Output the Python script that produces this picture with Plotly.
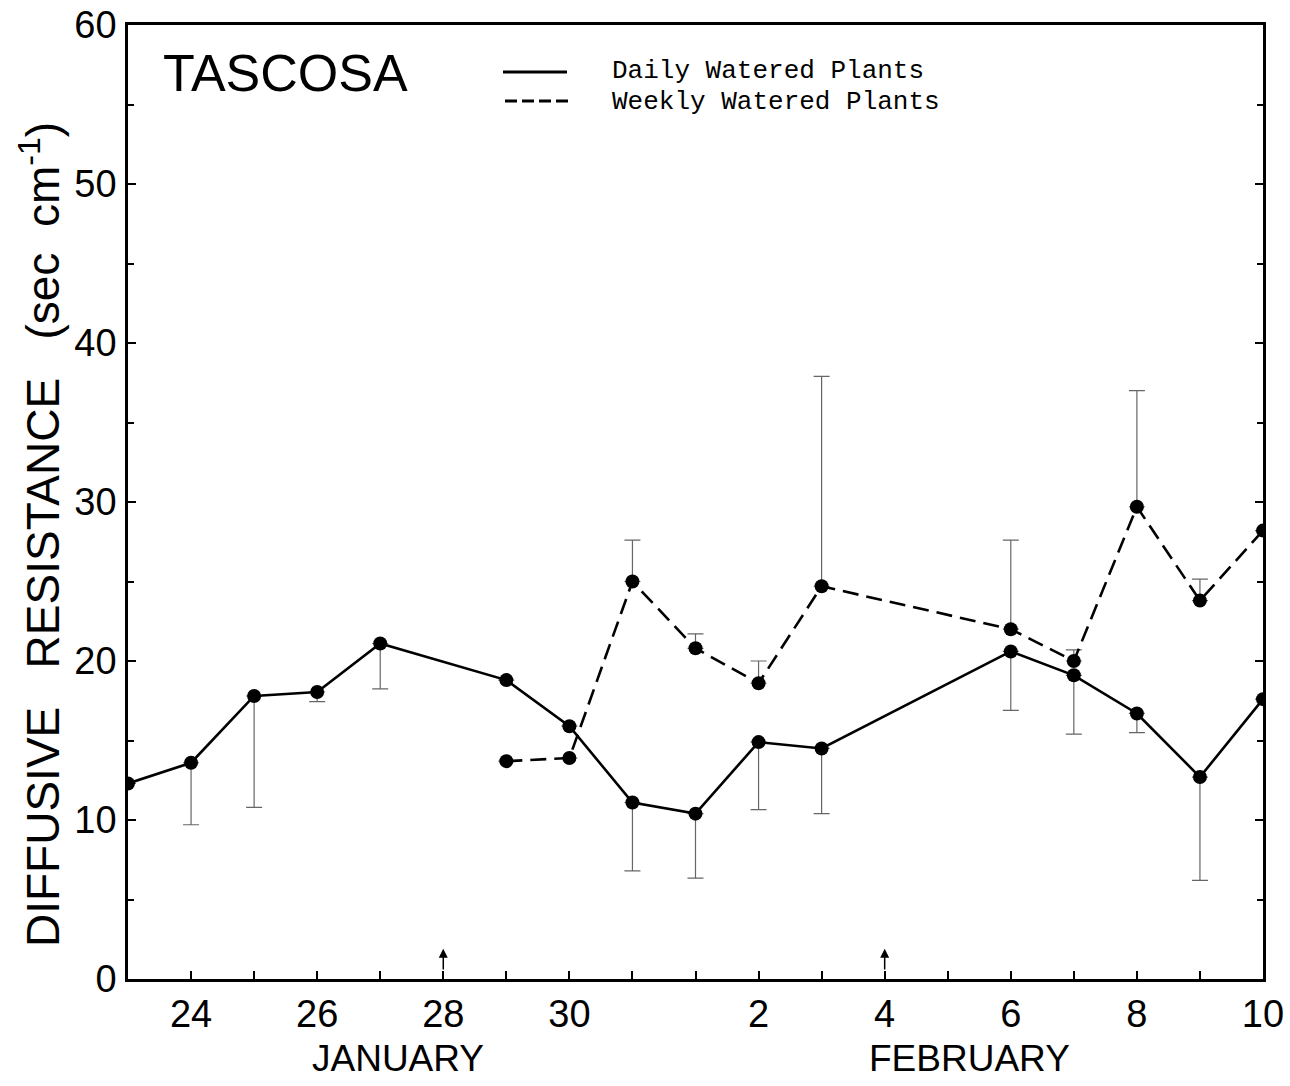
import plotly.graph_objects as go

# x positions: day numbers counted from Jan 1 (Feb 1 = 32)
daily_x = [23, 24, 25, 26, 27, 29, 30, 31, 32, 33, 34, 37, 38, 39, 40, 41]
daily_y = [12.3, 13.6, 17.8, 18.05, 21.1, 18.8, 15.9, 11.1, 10.4, 14.9, 14.5, 20.6, 19.1, 16.7, 12.7, 17.6]
daily_err_minus = [0, 3.9, 7.0, 0.6, 2.85, 0, 0, 4.3, 4.05, 4.25, 4.1, 3.7, 3.7, 1.2, 6.5, 0]

weekly_x = [29, 30, 31, 32, 33, 34, 37, 38, 39, 40, 41]
weekly_y = [13.7, 13.9, 25.0, 20.8, 18.6, 24.7, 22.0, 20.0, 29.7, 23.8, 28.2]
weekly_err_plus = [0, 0, 2.6, 0.9, 1.4, 13.2, 5.6, 0.7, 7.3, 1.35, 0]

tick_vals = [24, 26, 28, 30, 33, 35, 37, 39, 41]
tick_text = ["24", "26", "28", "30", "2", "4", "6", "8", "10"]
arrow_days = [28, 35]

FONT = "Liberation Sans"
MONO = "Liberation Mono"

fig = go.Figure()

fig.add_trace(go.Scatter(
    x=daily_x, y=daily_y, mode="lines+markers", name="Daily Watered Plants",
    line=dict(color="black", width=2.6),
    marker=dict(color="black", size=14),
    error_y=dict(type="data", symmetric=False, array=[0] * len(daily_x),
                 arrayminus=daily_err_minus, color="#666", thickness=1.2, width=8),
    showlegend=False,
))
fig.add_trace(go.Scatter(
    x=weekly_x, y=weekly_y, mode="lines+markers", name="Weekly Watered Plants",
    line=dict(color="black", width=2.6, dash="16px,8px"),
    marker=dict(color="black", size=14),
    error_y=dict(type="data", symmetric=False, array=weekly_err_plus,
                 arrayminus=[0] * len(weekly_x), color="#666", thickness=1.2, width=8),
    showlegend=False,
))

def px(x):
    return (x - 128) / 1135

def py(y):
    return (979 - y) / 954

annotations = [
    dict(text="TASCOSA", xref="paper", yref="paper", x=px(285), y=py(73),
         xanchor="center", yanchor="middle", showarrow=False,
         font=dict(family=FONT, size=52, color="black")),
    dict(text="Daily Watered Plants", xref="paper", yref="paper", x=px(610),
         y=py(71), xanchor="left", yanchor="middle", showarrow=False,
         font=dict(family=MONO, size=26, color="black")),
    dict(text="Weekly Watered Plants", xref="paper", yref="paper", x=px(610),
         y=py(102), xanchor="left", yanchor="middle", showarrow=False,
         font=dict(family=MONO, size=26, color="black")),
    dict(text="JANUARY", xref="paper", yref="paper", x=px(398),
         y=py(1058), xanchor="center", yanchor="middle", showarrow=False,
         font=dict(family=FONT, size=37, color="black")),
    dict(text="FEBRUARY", xref="paper", yref="paper", x=px(970),
         y=py(1058), xanchor="center", yanchor="middle", showarrow=False,
         font=dict(family=FONT, size=37, color="black")),
    dict(text="DIFFUSIVE   RESISTANCE   (sec  cm<sup>-1</sup>)", xref="paper", yref="paper",
         x=px(40), y=py(535), xanchor="center", yanchor="middle",
         textangle=-90, showarrow=False,
         font=dict(family=FONT, size=46, color="black")),
]
for d in arrow_days:
    annotations.append(dict(x=d, y=1.9, ax=d, ay=0.5, xref="x", yref="y", axref="x", ayref="y",
                            text="", showarrow=True, arrowhead=2, arrowsize=1.2,
                            arrowwidth=1.5, arrowcolor="black"))

shapes = [
    dict(type="line", xref="paper", yref="paper", x0=px(503), x1=px(567),
         y0=py(72), y1=py(72), line=dict(color="black", width=3)),
    dict(type="line", xref="paper", yref="paper", x0=px(505), x1=px(572),
         y0=py(101), y1=py(101), line=dict(color="black", width=3, dash="12px,5px")),
]

fig.update_layout(
    width=1290, height=1086,
    margin=dict(l=128, r=27, t=25, b=107, autoexpand=False),
    paper_bgcolor="white", plot_bgcolor="white",
    annotations=annotations, shapes=shapes,
    font=dict(family=FONT, color="black"),
)
fig.update_xaxes(
    range=[23, 41], tickmode="array", tickvals=tick_vals, ticktext=tick_text,
    ticks="inside", ticklen=8, tickwidth=1.5, tickcolor="black",
    minor=dict(tickmode="linear", tick0=23, dtick=1, ticks="inside", ticklen=8, tickcolor="black"),
    showline=True, linecolor="black", linewidth=2.5, mirror=True,
    showgrid=False, zeroline=False, automargin=False,
    tickfont=dict(family=FONT, size=38, color="black"), ticklabelstandoff=0,
)
fig.update_yaxes(
    range=[0, 60], tickmode="linear", tick0=0, dtick=10,
    ticks="inside", ticklen=8, tickwidth=1.5, tickcolor="black",
    minor=dict(tickmode="linear", tick0=0, dtick=5, ticks="inside", ticklen=6, tickcolor="black"),
    showline=True, linecolor="black", linewidth=2.5, mirror="ticks",
    showgrid=False, zeroline=False, automargin=False,
    tickfont=dict(family=FONT, size=38, color="black"), ticklabelstandoff=1,
)

fig.write_html("out.html")
